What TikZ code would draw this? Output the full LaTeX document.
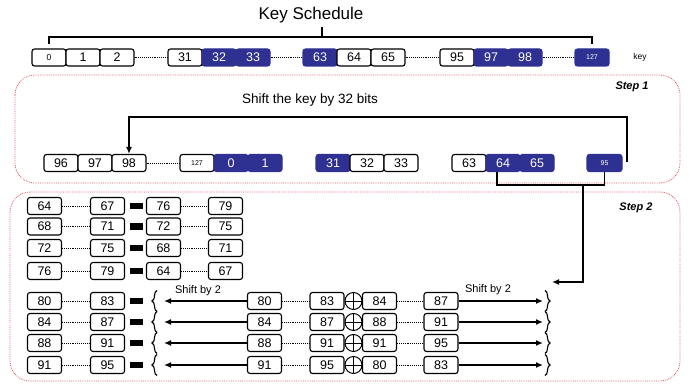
\documentclass[tikz,border=0pt]{standalone}
\usepackage{fontspec}
\setmainfont{Liberation Sans}
\usetikzlibrary{arrows.meta,decorations.pathreplacing,calc}
\definecolor{kb}{RGB}{46,49,146}
\definecolor{dred}{RGB}{225,85,95}
\tikzset{
 cell/.style={draw=black, line width=1.1pt, rounded corners=2.5pt, fill=white, minimum width=34pt, minimum height=17pt, inner sep=0pt, font=\fontsize{12.5}{13}\selectfont},
 bcell/.style={cell, fill=kb, draw=kb, text=white},
 smalltxt/.style={font=\fontsize{7}{8}\selectfont},
 dots/.style={densely dotted, line width=0.9pt},
 conn/.style={line width=1.6pt},
 arr/.style={conn, -{Latex[length=7pt,width=6pt]}},
 frame/.style={draw=dred, densely dotted, line width=0.8pt, rounded corners=20pt},
 bar/.style={fill=black, minimum width=13pt, minimum height=6pt, inner sep=0pt},
 xorc/.style={circle, draw, line width=1pt, minimum size=17pt, inner sep=0pt},
 steplab/.style={font=\fontsize{11}{12}\selectfont\itshape\bfseries},
 brc/.style={decorate, decoration={brace, amplitude=5pt}, line width=1.1pt},
}
\begin{document}
\begin{tikzpicture}[x=1pt,y=-1pt]
\useasboundingbox (0,0) rectangle (694,385);
% frames
\draw[frame] (15,75) rectangle (680,183);
\draw[frame] (10,192) rectangle (680,381);
% title
\node[font=\fontsize{17}{18}\selectfont] (title) at (311,15) {Key Schedule};
% top row
\node[cell,font=\fontsize{8.5}{9}\selectfont] (k0) at (49,57.5) {0};
\node[cell] (k1) at (83,57.5) {1};
\node[cell] (k2) at (117,57.5) {2};
\node[cell] (k31) at (185,57.5) {31};
\node[bcell] (k32) at (219,57.5) {32};
\node[bcell] (k33) at (253,57.5) {33};
\node[bcell] (k63) at (320,57.5) {63};
\node[cell] (k64) at (354,57.5) {64};
\node[cell] (k65) at (388,57.5) {65};
\node[cell] (k95) at (457,57.5) {95};
\node[bcell] (k97) at (491,57.5) {97};
\node[bcell] (k98) at (525,57.5) {98};
\node[bcell,smalltxt] (k127) at (592,57.5) {127};
\node[font=\fontsize{8.5}{9}\selectfont] (keylab) at (640,57) {key};
\draw[dots] (k2) -- (k31);
\draw[dots] (k33) -- (k63);
\draw[dots] (k65) -- (k95);
\draw[dots] (k98) -- (k127);
\coordinate (ktop) at (322,37);
\coordinate (ktick) at (322,27);
\draw[conn,line width=1.3pt] ([yshift=4pt]k0.north) |- (ktop) -| ([yshift=4pt]k127.north);
\draw[conn,line width=1.3pt] (ktop) -- (ktick);
% step 1
\node[steplab] (s1) at (632,87) {Step 1};
\node[font=\fontsize{13.5}{14}\selectfont] (shl) at (310,100) {Shift the key by 32 bits};
\node[cell] (r96) at (61,163) {96};
\node[cell] (r97) at (95,163) {97};
\node[cell] (r98) at (129,163) {98};
\node[cell,smalltxt] (r127) at (197,163) {127};
\node[bcell] (r0) at (231,163) {0};
\node[bcell] (r1) at (265,163) {1};
\node[bcell] (r31) at (333,163) {31};
\node[cell] (r32) at (367,163) {32};
\node[cell] (r33) at (401,163) {33};
\node[cell] (r63) at (469,163) {63};
\node[bcell] (r64) at (503,163) {64};
\node[bcell] (r65) at (537,163) {65};
\node[bcell,smalltxt,minimum width=35pt] (r95) at (604.5,163) {95};
\draw[dots] (r98) -- (r127);
\coordinate (rs) at (627,162);
\coordinate (rt) at (627,117);
\draw[arr] (rs) -- (rt) -| (r98.north);
\coordinate (bj) at (583,185);
\coordinate (ae) at (552,282);
\draw[conn] ([xshift=-6pt]r64.south) |- (bj) -| (r95.south);
\draw[arr] (bj) |- (ae);
% step 2
\node[steplab] (s2) at (636,208) {Step 2};
\foreach \i/\y/\a/\b/\c/\d in {1/206/64/67/76/79, 2/226.5/68/71/72/75, 3/248/72/75/68/71, 4/271/76/79/64/67}{
 \node[cell] (uA\i) at (44.5,\y) {\a};
 \node[cell] (uB\i) at (107.5,\y) {\b};
 \node[bar] (ubar\i) at (136,\y) {};
 \node[cell] (uC\i) at (163.5,\y) {\c};
 \node[cell] (uD\i) at (225.5,\y) {\d};
 \draw[dots] (uA\i) -- (uB\i);
 \draw[dots] (uC\i) -- (uD\i);
}
\foreach \i/\y/\a/\b/\c/\d/\e/\f in {1/301/80/83/80/83/84/87, 2/322/84/87/84/87/88/91, 3/343/88/91/88/91/91/95, 4/365/91/95/91/95/80/83}{
 \node[cell] (lA\i) at (44.5,\y) {\a};
 \node[cell] (lB\i) at (107.5,\y) {\b};
 \node[bar] (lbar\i) at (136,\y) {};
 \node[cell] (mA\i) at (264.5,\y) {\c};
 \node[cell] (mB\i) at (327,\y) {\d};
 \node[xorc] (x\i) at (353.5,\y) {};
 \node[cell] (mC\i) at (379.5,\y) {\e};
 \node[cell] (mD\i) at (441,\y) {\f};
 \draw[line width=1pt] (x\i.north) -- (x\i.south);
 \draw[line width=1pt] (x\i.west) -- (x\i.east);
 \draw[dots] (lA\i) -- (lB\i);
 \draw[dots] (mA\i) -- (mB\i);
 \draw[dots] (mC\i) -- (mD\i);
 \coordinate (lb\i) at (164,\y);
 \coordinate (rb\i) at (543,\y);
 \draw[arr] (mA\i.west) -- (lb\i);
 \draw[arr] (mD\i.east) -- (rb\i);
 \draw[brc] (157,\y+10.5) -- (157,\y-10.5);
 \draw[brc] (545,\y-10.5) -- (545,\y+10.5);
}
\node[font=\fontsize{11}{12}\selectfont] (shl2) at (198,291) {Shift by 2};
\node[font=\fontsize{11}{12}\selectfont] (shr2) at (488,290) {Shift by 2};
\end{tikzpicture}
\end{document}
